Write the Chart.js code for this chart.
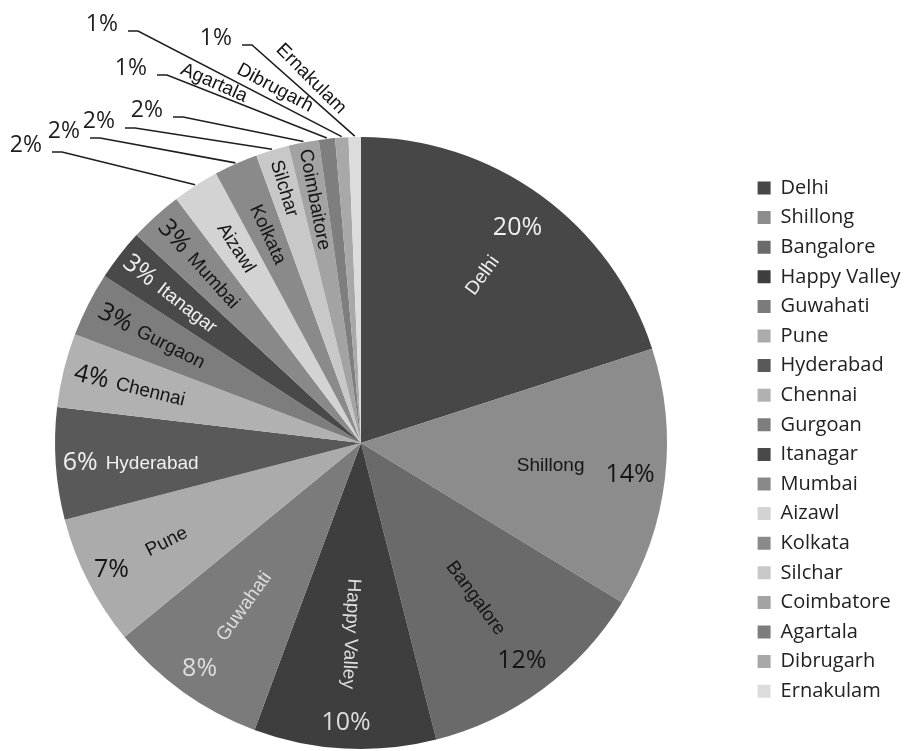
<!DOCTYPE html>
<html>
<head>
<meta charset="utf-8">
<script src="https://cdn.jsdelivr.net/npm/chart.js@4/dist/chart.umd.min.js"></script>
<style>
  html, body { margin: 0; padding: 0; background: #ffffff; overflow: hidden; }
  #wrap { width: 906px; height: 751px; position: relative; overflow: hidden; }
  #c { position: absolute; left: -26px; top: 0; }
</style>
</head>
<body>
<div id="wrap"><canvas id="c" width="932" height="751"></canvas></div>
<script>
// ---- data ----
const categories = ['Delhi', 'Shillong', 'Bangalore', 'Happy Valley', 'Guwahati', 'Pune', 'Hyderabad', 'Chennai', 'Gurgoan', 'Itanagar', 'Mumbai', 'Aizawl', 'Kolkata', 'Silchar', 'Coimbatore', 'Agartala', 'Dibrugarh', 'Ernakulam'];
const sliceLabels = ['Delhi', 'Shillong', 'Bangalore', 'Happy Valley', 'Guwahati', 'Pune', 'Hyderabad', 'Chennai', 'Gurgaon', 'Itanagar', 'Mumbai', 'Aizawl', 'Kolkata', 'Silchar', 'Coimbaitore', 'Agartala', 'Dibrugarh', 'Ernakulam'];
const shares = [20.0, 13.7, 12.3, 9.6, 8.4, 6.9, 5.9, 3.9, 3.4, 2.7, 2.8, 2.45, 2.3, 1.75, 1.6, 0.85, 0.7, 0.65];
const sliceColors = ['#474747', '#8c8c8c', '#6a6a6a', '#3e3e3e', '#7b7b7b', '#ababab', '#595959', '#b1b1b1', '#7d7d7d', '#494949', '#898989', '#d3d3d3', '#8a8a8a', '#c8c8c8', '#a3a3a3', '#7e7e7e', '#a8a8a8', '#dcdcdc'];

// ---- label layout (positions / styles only) ----
const DARK = '#151515', LIGHT = '#f0f0f0', LIGHT2 = '#dedede';
const labelLayout = [
  {mode: 'split', nameR: 207, pctR: 266, color: LIGHT},
  {mode: 'split', nameR: 191, pctR: 271, color: DARK},
  {mode: 'split', nameR: 193, pctR: 271, color: DARK},
  {mode: 'split', nameR: 191, pctR: 280, color: LIGHT2},
  {mode: 'split', nameR: 201, pctR: 278, color: LIGHT2},
  {mode: 'split', nameR: 218, pctR: 280, color: DARK},
  {mode: 'inline', startR: 299, color: LIGHT},
  {mode: 'inline', startR: 295, color: DARK},
  {mode: 'inline', startR: 293, color: DARK},
  {mode: 'inline', startR: 298, color: LIGHT},
  {mode: 'inline', startR: 296, color: DARK},
  {mode: 'leader', startR: 259, elbow: [-299, -291], color: DARK},
  {mode: 'leader', startR: 260, elbow: [-261, -305], color: DARK},
  {mode: 'leader', startR: 295, elbow: [-226, -315], color: DARK},
  {mode: 'leader', startR: 299, elbow: [-178, -326], color: DARK},
  {mode: 'outside', elbow: [-194, -368], name: [-147, -360, 24], color: DARK},
  {mode: 'outside', elbow: [-223, -412], name: [-86, -355, 28], color: DARK},
  {mode: 'outside', elbow: [-109, -398], name: [-50, -364, 45], color: DARK}
];
const NAME_FONT = '19px "Liberation Sans", Arial, sans-serif';
const OUT_NAME_FONT = '19px "Liberation Sans", Arial, sans-serif';
const PCT_FONT = '25px "Open Sans", sans-serif';
const LEAD_PCT_FONT = '23px "Open Sans", sans-serif';

const labelPlugin = {
  id: 'sliceLabels',
  afterDatasetsDraw(chart) {
    const ctx = chart.ctx;
    const meta = chart.getDatasetMeta(0);
    const total = shares.reduce((s, v) => s + v, 0);
    meta.data.forEach((arc, i) => {
      const L = labelLayout[i];
      const p = arc.getProps(['x', 'y', 'startAngle', 'endAngle', 'outerRadius'], true);
      const cx = p.x, cy = p.y, R = p.outerRadius;
      const a = (p.startAngle + p.endAngle) / 2;
      const compass = ((a * 180 / Math.PI) + 90 + 720) % 360;
      let rot = compass <= 190 ? a : a - Math.PI;
      let rd = rot * 180 / Math.PI;
      while (rd > 180) rd -= 360;
      while (rd < -180) rd += 360;
      if (Math.abs(rd) < 8) rot = 0;
      const pct = Math.round(shares[i] / total * 100) + '%';
      const name = sliceLabels[i];
      const px = r => cx + r * Math.cos(a);
      const py = r => cy + r * Math.sin(a);
      ctx.save();
      ctx.fillStyle = L.color;
      if (L.mode === 'split') {
        ctx.save();
        ctx.translate(px(L.nameR), py(L.nameR));
        ctx.rotate(rot);
        ctx.font = NAME_FONT;
        ctx.textAlign = 'center';
        ctx.textBaseline = 'middle';
        ctx.fillText(name, 0, 0);
        ctx.restore();
        ctx.font = PCT_FONT;
        ctx.textAlign = 'center';
        ctx.textBaseline = 'middle';
        ctx.fillText(pct, px(L.pctR), py(L.pctR));
      } else if (L.mode === 'inline') {
        ctx.translate(px(L.startR), py(L.startR));
        ctx.rotate(rot);
        ctx.textAlign = 'left';
        ctx.textBaseline = 'middle';
        ctx.font = PCT_FONT;
        const w = ctx.measureText(pct).width;
        ctx.fillText(pct, 0, 0);
        ctx.font = NAME_FONT;
        ctx.fillText(name, w + 8, 1);
      } else {
        // line from slice edge to elbow, short horizontal tail, percentage label
        const ex = cx + L.elbow[0], ey = cy + L.elbow[1];
        ctx.strokeStyle = '#1e1e1e';
        ctx.lineWidth = 1.6;
        ctx.beginPath();
        ctx.moveTo(px(R + 1), py(R + 1));
        ctx.lineTo(ex, ey);
        ctx.lineTo(ex - 10, ey);
        ctx.stroke();
        ctx.fillStyle = '#1e1e1e';
        ctx.font = LEAD_PCT_FONT;
        ctx.textAlign = 'right';
        ctx.textBaseline = 'alphabetic';
        ctx.fillText(pct, ex - 20, ey);
        ctx.fillStyle = L.color;
        if (L.mode === 'leader') {
          ctx.save();
          ctx.translate(px(L.startR), py(L.startR));
          ctx.rotate(rot);
          ctx.font = NAME_FONT;
          ctx.textAlign = 'left';
          ctx.textBaseline = 'middle';
          ctx.fillText(name, 0, 0);
          ctx.restore();
        } else {
          ctx.save();
          ctx.translate(cx + L.name[0], cy + L.name[1]);
          ctx.rotate(L.name[2] * Math.PI / 180);
          ctx.font = OUT_NAME_FONT;
          ctx.textAlign = 'center';
          ctx.textBaseline = 'middle';
          ctx.fillText(name, 0, 0);
          ctx.restore();
        }
      }
      ctx.restore();
    });
  }
};

new Chart(document.getElementById('c'), {
  type: 'pie',
  data: {
    labels: categories,
    datasets: [{
      data: shares,
      backgroundColor: sliceColors,
      borderWidth: 0,
      radius: 306,
      clip: false
    }]
  },
  options: {
    responsive: false,
    devicePixelRatio: 1,
    animation: false,
    events: [],
    layout: {padding: {left: 0, right: 0, top: 168.4, bottom: 33.4}},
    plugins: {
      tooltip: {enabled: false},
      legend: {
        position: 'right',
        align: 'start',
        maxWidth: 158,
        labels: {
          boxWidth: 13,
          boxHeight: 13,
          padding: 9.6,
          color: '#222222',
          font: {family: '"Open Sans", sans-serif', size: 20}
        }
      }
    }
  },
  plugins: [labelPlugin]
});
</script>
</body>
</html>
